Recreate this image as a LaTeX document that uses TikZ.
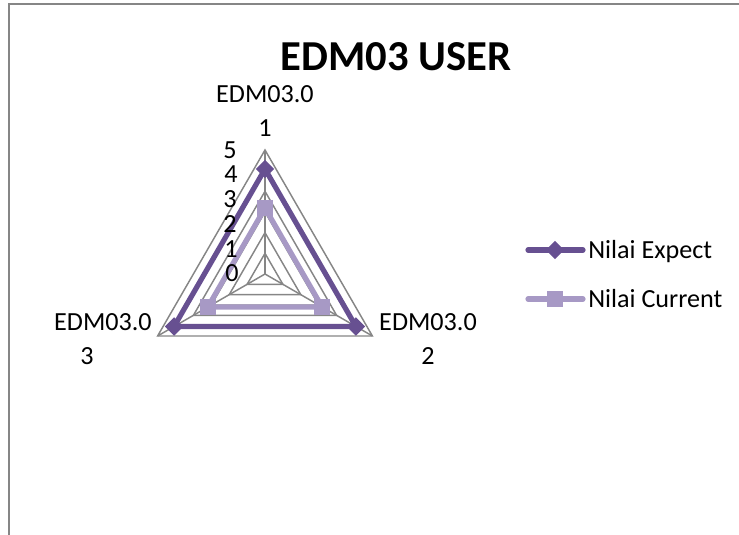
\documentclass[tikz,border=0pt]{standalone}
\usepackage{fontspec}
\setmainfont{Carlito}
\usetikzlibrary{shapes.geometric,calc}

\definecolor{expectc}{RGB}{103,80,145}
\definecolor{currentc}{RGB}{167,153,197}
\definecolor{gridc}{RGB}{134,134,134}

\tikzset{
  gridline/.style={draw=gridc, line width=1.1pt},
  expline/.style={draw=expectc, line width=3.9pt, line join=miter},
  curline/.style={draw=currentc, line width=3.9pt, line join=miter},
  expmark/.style={diamond, fill=expectc, inner sep=0pt, minimum width=14pt, minimum height=14pt},
  curmark/.style={rectangle, fill=currentc, inner sep=0pt, minimum size=12.5pt},
  lbl/.style={font=\fontsize{19.6}{25.5}\selectfont, inner sep=0pt},
}

\begin{document}
\begin{tikzpicture}[x=0.75pt,y=0.75pt,yscale=-1,xscale=1]
        \useasboundingbox (0,0) rectangle (739,535);

        %Chart frame
        \draw [gridc, line width=1.5pt] (8.5,545) -- (8.5,4.5) -- (750,4.5) ;

        % Title
        \node [font=\fontsize{32}{36}\selectfont\bfseries, inner sep=0pt, anchor=base] (title) at (396,71) {EDM03 USER};

        %Radar centre and grid
        \coordinate (c) at (265,274);
        \foreach \k in {1,...,6}{
          \draw [gridline] ($(c)+(-90:\k*20.67)$) -- ($(c)+(30:\k*20.67)$) -- ($(c)+(150:\k*20.67)$) -- cycle ;
        }
        \coordinate (a1) at ($(c)+(-90:124)$);
        \coordinate (a2) at ($(c)+(30:124)$);
        \coordinate (a3) at ($(c)+(150:124)$);
        \draw [gridline] (c) -- (a1) ;
        \draw [gridline] (c) -- (a2) ;
        \draw [gridline] (c) -- (a3) ;

        %Series: Nilai Current
        \node [curmark] (cur1) at ($(c)+(-90:66)$) {};
        \node [curmark] (cur2) at ($(c)+(30:66)$) {};
        \node [curmark] (cur3) at ($(c)+(150:66)$) {};
        \draw [curline] (cur1.center) -- (cur2.center) -- (cur3.center) -- cycle ;

        %Series: Nilai Expect
        \node [expmark] (exp1) at ($(c)+(-90:105)$) {};
        \node [expmark] (exp2) at ($(c)+(30:105)$) {};
        \node [expmark] (exp3) at ($(c)+(150:105)$) {};
        \draw [expline] (exp1.center) -- (exp2.center) -- (exp3.center) -- cycle ;

        % Axis values
        \node [lbl, anchor=base] (v5) at (230,158.5) {5};
        \node [lbl, anchor=base] (v4) at (231,182.5) {4};
        \node [lbl, anchor=base] (v3) at (230,207.5) {3};
        \node [lbl, anchor=base] (v2) at (230,232.5) {2};
        \node [lbl, anchor=base] (v1) at (231,257) {1};
        \node [lbl, anchor=base] (v0) at (232,281.5) {0};

        % Category labels
        \node [lbl, align=center, anchor=north] (cat1) at (265,85) {EDM03.0\\1};
        \node [lbl, align=center, anchor=north] (cat2) at (428,313.5) {EDM03.0\\2};
        \node [lbl, align=center, anchor=north] (cat3) at (103,313.5) {EDM03.0\\3\hspace*{24pt}};

        % Legend
        \coordinate (le1) at (528,250);
        \coordinate (le2) at (583,250);
        \coordinate (lc1) at (528,299);
        \coordinate (lc2) at (583,299);
        \draw [expline, line cap=round] (le1) -- (le2) ;
        \node [expmark] (legexp) at (555,250) {};
        \draw [curline, line cap=round] (lc1) -- (lc2) ;
        \node [curmark] (legcur) at (555,299) {};
        \node [lbl, anchor=base west] (txtexp) at (588,258.5) {Nilai Expect};
        \node [lbl, anchor=base west] (txtcur) at (588,307.5) {Nilai Current};
\end{tikzpicture}
\end{document}
